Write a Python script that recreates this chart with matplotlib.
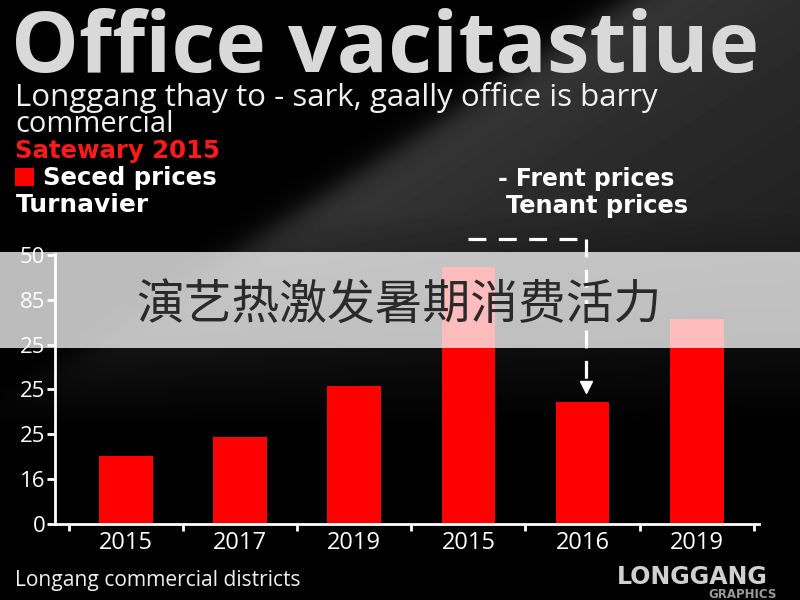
import matplotlib
matplotlib.use('Agg')
import matplotlib.pyplot as plt
import numpy as np
from matplotlib.patches import Rectangle

# ---- data (in tick-step units) ----
categories = ['2015', '2017', '2019', '2015', '2016', '2019']
values = [1.51, 1.93, 3.07, 5.74, 2.73, 4.56]
ytick_labels = ['0', '16', '25', '25', '25', '85', '50']

W, H = 800, 600
plt.rcParams['font.family'] = ['Open Sans', 'DejaVu Sans']
fig = plt.figure(figsize=(8, 6), dpi=100)
fig.patch.set_facecolor('black')

# ---- background sheen ----
bg = fig.add_axes([0, 0, 1, 1], zorder=-10)
yy, xx = np.mgrid[0:H, 0:W].astype(float)
p0 = np.array([627., 0.]); p1 = np.array([255., 240.])
d = (p1 - p0) / np.linalg.norm(p1 - p0)
n = np.array([d[1], -d[0]])
s = (xx - p0[0]) * n[0] + (yy - p0[1]) * n[1]
edge = 1 / (1 + np.exp(-s / 8))
fall = 0.45 + 0.55 * np.exp(-np.clip(s, 0, None) / 220)
vfade = np.clip((430 - yy) / 220, 0, 1)
I = 0.22 * edge * fall * vfade
bg.imshow(I, cmap='gray', vmin=0, vmax=1, extent=[0, W, H, 0], aspect='auto',
          interpolation='bilinear')
bg.set_axis_off()

# ---- main axes ----
ax = fig.add_axes([55 / W, 1 - 524 / H, (759 - 55) / W, (524 - 254) / H])
ax.set_facecolor('none')
x = np.arange(len(categories))
ax.bar(x, values, width=0.47, color='#ff0000', zorder=2)
ax.set_xlim(-0.62, 5.545)
ax.set_ylim(0, 6.02)
for sp in ['top', 'right']:
    ax.spines[sp].set_visible(False)
for sp in ['left', 'bottom']:
    ax.spines[sp].set_color('white')
    ax.spines[sp].set_linewidth(2)
ax.set_yticks(range(len(ytick_labels)))
ax.set_yticklabels(ytick_labels)
ax.tick_params(axis='y', colors='white', length=6, width=2, labelsize=16, pad=1)
ax.set_xticks(np.arange(len(categories) + 1) - 0.5)
ax.set_xticklabels([])
ax.set_xticks(x, minor=True)
ax.set_xticklabels(categories, minor=True)
ax.tick_params(axis='x', which='major', colors='white', length=5, width=2)
ax.tick_params(axis='x', which='minor', colors='white', length=0, labelsize=17, pad=5)

# ---- dashed annotation arrow ----
y_top = 6.36
x_a, x_b = 3, 4 + 0.03
ax.plot([x_a, x_b], [y_top, y_top], color='white', lw=2.3, dashes=(5.6, 3.9),
        clip_on=False, zorder=3)
ax.plot([x_b, x_b], [y_top, values[4] + 0.45], color='white', lw=2.3,
        dashes=(5.6, 3.9), clip_on=False, zorder=3)
ax.plot([x_b], [values[4] + 0.32], marker='v', markersize=9, color='white',
        clip_on=False, zorder=3)

# ---- texts ----
fig.canvas.draw()
r = fig.canvas.get_renderer()


def put(s, x0, base, target_w, cap=None, ratio=0.72, size=20, wgt=0.7, **kw):
    t = fig.text(x0 / W, 1 - base / H, s, va='baseline', ha='left', fontsize=size, **kw)
    bb = t.get_window_extent(renderer=r)
    sw = size * target_w / bb.width
    if cap is not None:
        sh = cap / ratio * 0.72
        sw = sw ** wgt * sh ** (1 - wgt)
    t.set_fontsize(sw)
    return t


bold = ['DejaVu Sans']
put('Office vacitastiue', 11, 72, 764, cap=58, ratio=0.714, size=60,
    color='#d9d9d9', fontweight='bold')
put('Longgang thay to - sark, gaally office is barry', 15, 106, 660, cap=21,
    ratio=0.714, color='#f0f0f0')
put('commercial', 15, 132, 157, cap=21, ratio=0.714, color='#f0f0f0')
put('Satewary 2015', 15, 158, 215, cap=16, ratio=0.729, color='#ff1a1a',
    fontweight='bold', family=bold)
put('Seced prices', 43, 185, 178, cap=17, ratio=0.729, color='white',
    fontweight='bold', family=bold)
put('Turnavier', 16, 212, 133, cap=18, ratio=0.729, color='white',
    fontweight='bold', family=bold)
put('- Frent prices', 498, 186, 187, cap=15, ratio=0.729, color='white',
    fontweight='bold', family=bold)
put('Tenant prices', 506, 213, 191, cap=16, ratio=0.729, color='white',
    fontweight='bold', family=bold)
fig.add_artist(Rectangle((15 / W, 1 - 186 / H), 19 / W, 18 / H, transform=fig.transFigure,
                         facecolor='#ff0000', edgecolor='none'))

put('Longang commercial districts', 15, 586, 302, cap=13, ratio=0.714, color='#f0f0f0')
put('LONGGANG', 617, 584, 165, cap=14, ratio=0.729, color='#d0d0d0',
    fontweight='bold', family=bold)
put('GRAPHICS', 708, 598, 68, size=5, color='#9a9a9a', fontweight='bold',
    family=bold)

# ---- translucent banner with Chinese caption ----
fig.add_artist(Rectangle((0, 1 - 348 / H), 1, 96 / H, transform=fig.transFigure,
                         facecolor='white', edgecolor='none', alpha=0.74, zorder=5))
t = fig.text(399 / W, 1 - 306 / H, '演艺热激发暑期消费活力', ha='center', va='center',
             fontsize=34, color='#2a2a2a', family=['Noto Sans CJK SC', 'DejaVu Sans'],
             zorder=6)
bb = t.get_window_extent(renderer=r)
t.set_fontsize(34 * 526 / bb.width)

fig.savefig('out.png', dpi=100, facecolor='black')
